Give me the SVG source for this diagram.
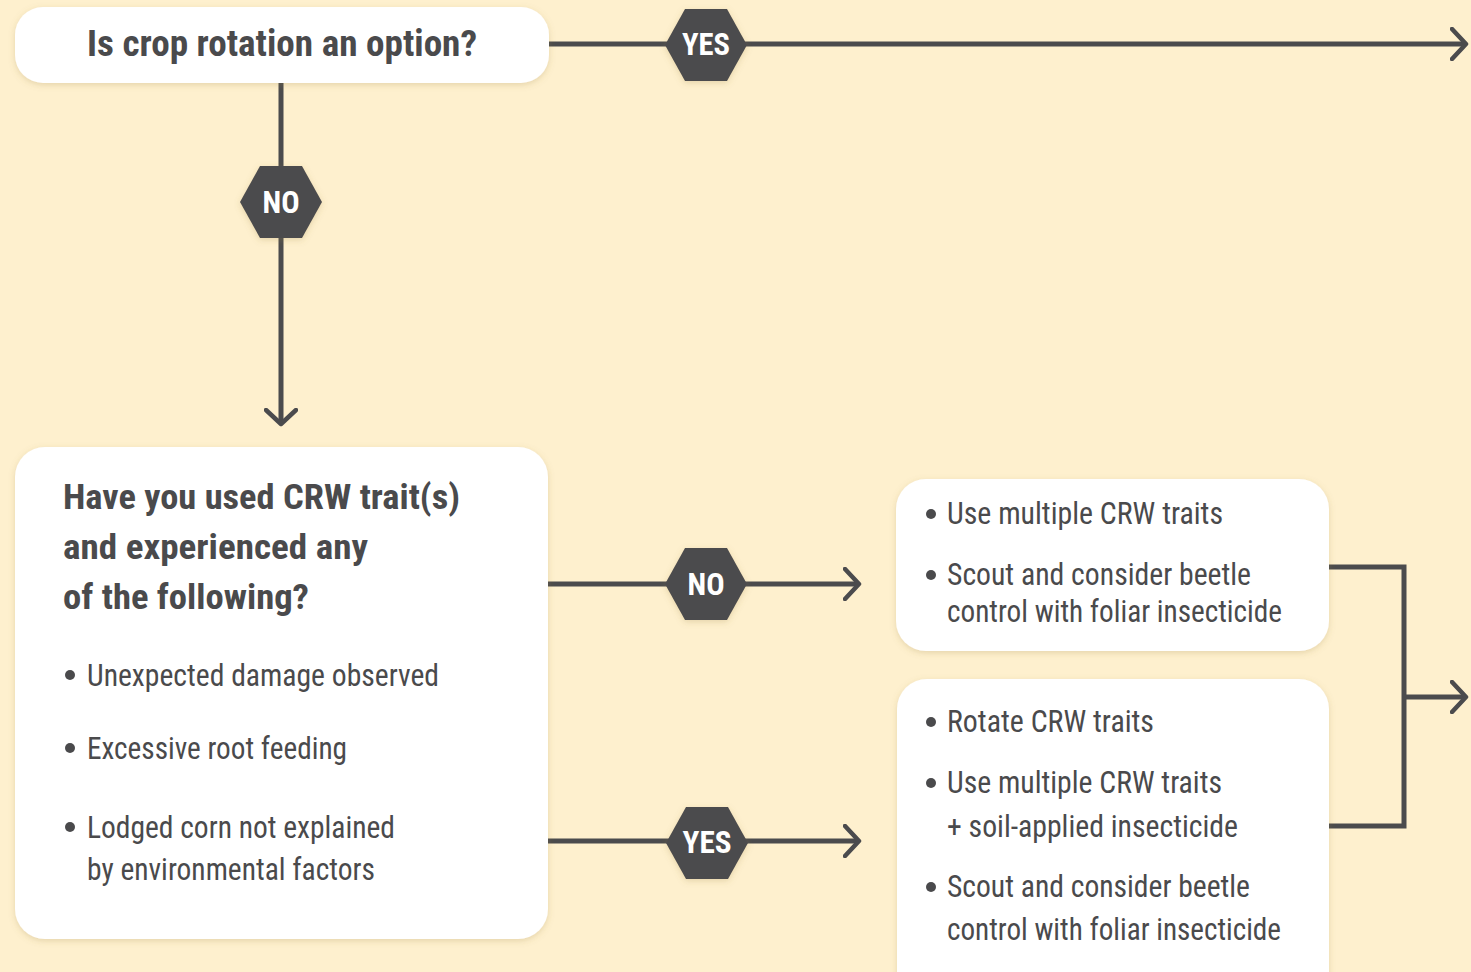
<svg xmlns="http://www.w3.org/2000/svg" width="1471" height="972" viewBox="0 0 1471 972">
<defs>
<style>
.bg{fill:#FEF0CE}
.box{fill:#ffffff;filter:url(#sh)}
.hex{fill:#4b4b4d;filter:url(#sh)}
.ln{fill:none;stroke:#4b4b4d;stroke-width:5}
.t{font-family:"Liberation Sans Narrow","Roboto Condensed","DejaVu Sans Condensed","Liberation Sans",sans-serif;fill:#4a4a4c}
.h{font-size:37px;font-weight:bold}
.q{font-size:35px;font-weight:bold}
.b{font-size:32px}
.r{font-size:31px}
.lab{font-family:"Liberation Sans Narrow","Roboto Condensed","DejaVu Sans Condensed","Liberation Sans",sans-serif;fill:#ffffff;font-size:32px;font-weight:bold;text-anchor:middle}
.dot{fill:#4a4a4c}
</style>
<filter id="sh" x="-10%" y="-10%" width="120%" height="130%">
<feDropShadow dx="0" dy="2" stdDeviation="3" flood-color="#9a8040" flood-opacity="0.25"/>
</filter>
<marker id="arr" markerUnits="userSpaceOnUse" markerWidth="30" markerHeight="34" refX="16" refY="17" orient="auto" viewBox="0 0 30 34">
<path d="M2 2 L16 17 L2 32" fill="none" stroke="#4b4b4d" stroke-width="4.5" stroke-linecap="round" stroke-linejoin="round"/>
</marker>
<path id="hx" d="M-41 0 L-21 -36 L21 -36 L41 0 L21 36 L-21 36 Z"/>
</defs>
<rect class="bg" x="0" y="0" width="1471" height="972"/>

<g id="connectors">
<path class="ln" d="M548 44 H1466" marker-end="url(#arr)"/>
<path class="ln" d="M281 83 V424" marker-end="url(#arr)"/>
<path class="ln" d="M548 584 H859" marker-end="url(#arr)"/>
<path class="ln" d="M548 841 H859" marker-end="url(#arr)"/>
<path class="ln" d="M1329 567 H1404 V826 H1329" stroke-width="6"/>
<path class="ln" d="M1404 697 H1466" marker-end="url(#arr)"/>
</g>

<g id="q1">
<rect class="box" x="15" y="7" width="534" height="76" rx="28"/>
<text class="t h" x="87" y="56" textLength="390" lengthAdjust="spacingAndGlyphs">Is crop rotation an option?</text>
</g>

<g id="yes1" transform="translate(706,45)">
<use href="#hx" class="hex"/>
<text class="lab" x="0" y="10" textLength="48" lengthAdjust="spacingAndGlyphs">YES</text>
</g>

<g id="no1" transform="translate(281,202)">
<use href="#hx" class="hex"/>
<text class="lab" x="0" y="11" textLength="37" lengthAdjust="spacingAndGlyphs">NO</text>
</g>

<g id="q2">
<rect class="box" x="15" y="447" width="533" height="492" rx="30"/>
<text class="t q" x="63" y="509" textLength="397" lengthAdjust="spacingAndGlyphs">Have you used CRW trait(s)</text>
<text class="t q" x="63" y="559" textLength="305" lengthAdjust="spacingAndGlyphs">and experienced any</text>
<text class="t q" x="63" y="609" textLength="246" lengthAdjust="spacingAndGlyphs">of the following?</text>
<circle class="dot" cx="70" cy="675" r="5"/>
<text class="t b" x="87" y="686" textLength="352" lengthAdjust="spacingAndGlyphs">Unexpected damage observed</text>
<circle class="dot" cx="70" cy="748" r="5"/>
<text class="t b" x="87" y="759" textLength="260" lengthAdjust="spacingAndGlyphs">Excessive root feeding</text>
<circle class="dot" cx="70" cy="827" r="5"/>
<text class="t b" x="87" y="838" textLength="308" lengthAdjust="spacingAndGlyphs">Lodged corn not explained</text>
<text class="t b" x="87" y="880" textLength="288" lengthAdjust="spacingAndGlyphs">by environmental factors</text>
</g>

<g id="no2" transform="translate(706,584)">
<use href="#hx" class="hex"/>
<text class="lab" x="0" y="11" textLength="37" lengthAdjust="spacingAndGlyphs">NO</text>
</g>

<g id="yes2" transform="translate(707,843)">
<use href="#hx" class="hex"/>
<text class="lab" x="0" y="10" textLength="49" lengthAdjust="spacingAndGlyphs">YES</text>
</g>

<g id="a1">
<rect class="box" x="896" y="479" width="433" height="172" rx="30"/>
<circle class="dot" cx="931" cy="514" r="5"/>
<text class="t r" x="947" y="524" textLength="276" lengthAdjust="spacingAndGlyphs">Use multiple CRW traits</text>
<circle class="dot" cx="931" cy="575" r="5"/>
<text class="t r" x="947" y="585" textLength="304" lengthAdjust="spacingAndGlyphs">Scout and consider beetle</text>
<text class="t r" x="947" y="622" textLength="335" lengthAdjust="spacingAndGlyphs">control with foliar insecticide</text>
</g>

<g id="a2">
<rect class="box" x="897" y="679" width="432" height="330" rx="30"/>
<circle class="dot" cx="931" cy="722" r="5"/>
<text class="t r" x="947" y="732" textLength="207" lengthAdjust="spacingAndGlyphs">Rotate CRW traits</text>
<circle class="dot" cx="931" cy="783" r="5"/>
<text class="t r" x="947" y="793" textLength="275" lengthAdjust="spacingAndGlyphs">Use multiple CRW traits</text>
<text class="t r" x="947" y="837" textLength="291" lengthAdjust="spacingAndGlyphs">+ soil-applied insecticide</text>
<circle class="dot" cx="931" cy="887" r="5"/>
<text class="t r" x="947" y="897" textLength="303" lengthAdjust="spacingAndGlyphs">Scout and consider beetle</text>
<text class="t r" x="947" y="940" textLength="334" lengthAdjust="spacingAndGlyphs">control with foliar insecticide</text>
</g>
</svg>
